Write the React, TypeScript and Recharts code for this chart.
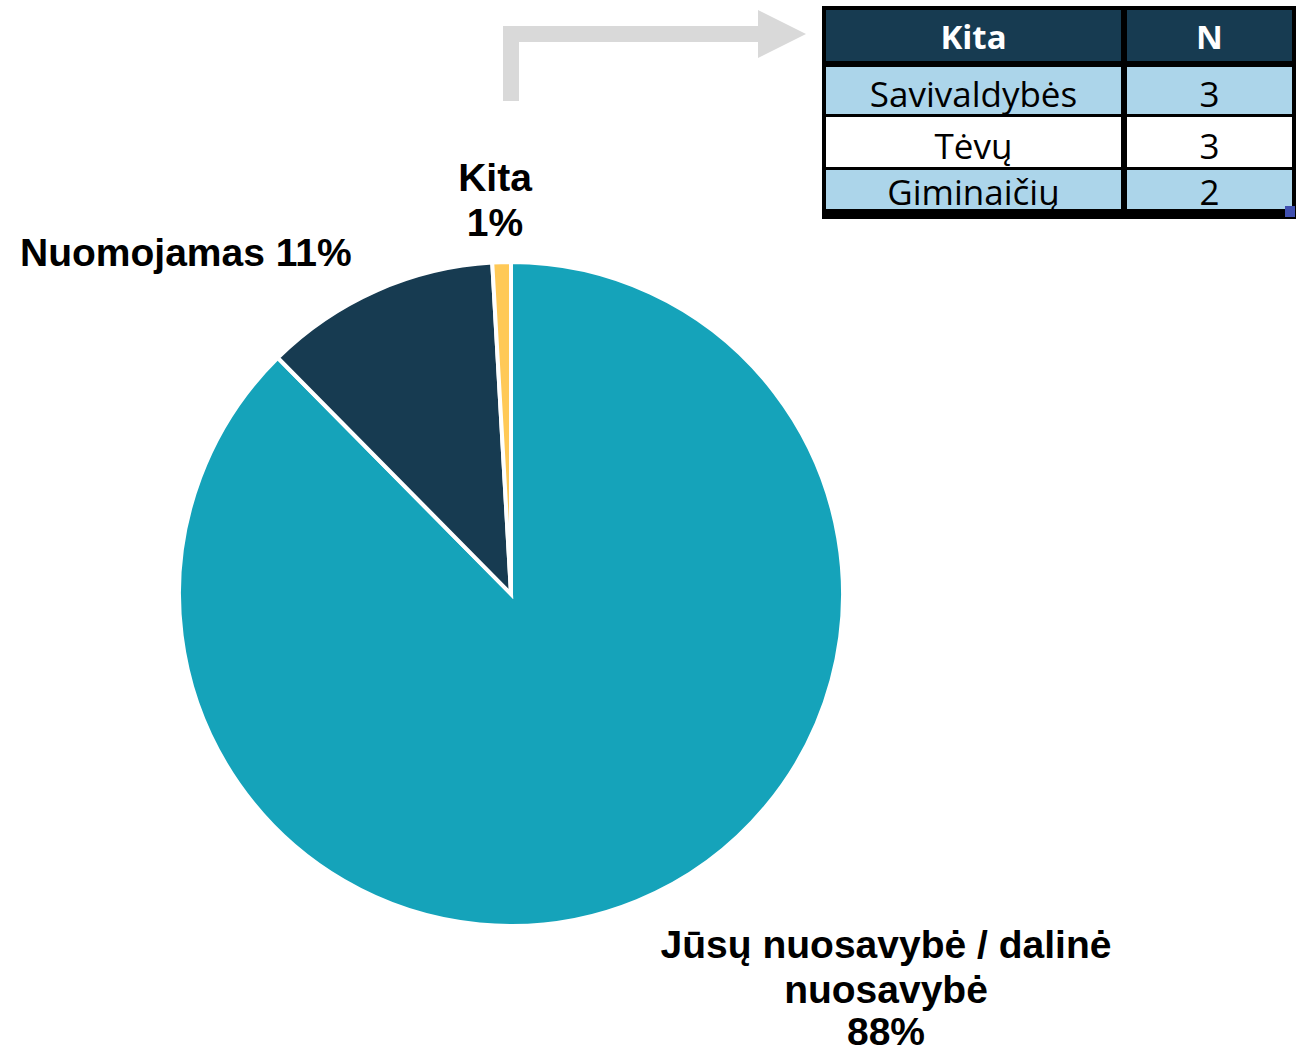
import React from "react";
import { PieChart, Pie, Cell } from "recharts";

// shares (clockwise from 12 o'clock)
const categories = ["Jūsų nuosavybė / dalinė nuosavybė", "Nuomojamas", "Kita"];
const shares = [87.6, 11.5, 0.9];
const shareLabels = ["88%", "11%", "1%"];
const sliceColors = ["#15A3BA", "#173B51", "#FFC957"];

// breakdown of "Kita"
const kitaRows = ["Savivaldybės", "Tėvų", "Giminaičių"];
const kitaCounts = [3, 3, 2];

const data = categories.map((name, i) => ({ name, value: shares[i], pct: shareLabels[i] }));

const labelFont = "'Liberation Sans', Arial, sans-serif";

function SliceLabel(props: any) {
  const { index } = props;
  const common = {
    fontFamily: labelFont,
    fontWeight: 700,
    fontSize: 39,
    fill: "#000",
  };
  if (index === 0) {
    return (
      <text {...common} textAnchor="middle">
        <tspan x={886} y={958}>Jūsų nuosavybė / dalinė</tspan>
        <tspan x={886} y={1003}>nuosavybė</tspan>
        <tspan x={886} y={1045}>{data[0].pct}</tspan>
      </text>
    );
  }
  if (index === 1) {
    return (
      <text {...common} x={20} y={266} textAnchor="start">
        {data[1].name} {data[1].pct}
      </text>
    );
  }
  return (
    <text {...common} textAnchor="middle">
      <tspan x={495} y={191}>{data[2].name}</tspan>
      <tspan x={495} y={236}>{data[2].pct}</tspan>
    </text>
  );
}

function KitaTable() {
  const cell: React.CSSProperties = {
    padding: 0,
    textAlign: "center",
    fontFamily: "'Open Sans', 'Noto Sans', sans-serif",
    fontSize: 35,
    color: "#000",
    lineHeight: 1,
  };
  return (
    <div
      style={{
        position: "absolute",
        left: 822,
        top: 6,
        width: 474,
        height: 213,
        background: "#000",
        boxSizing: "border-box",
      }}
    >
      <table
        style={{
          position: "absolute",
          left: 4,
          top: 4,
          width: 466,
          borderCollapse: "separate",
          borderSpacing: 0,
        }}
      >
        <tbody>
          <tr style={{ height: 51 }}>
            <td style={{ ...cell, width: 295, fontSize: 33, background: "#173B51", color: "#fff", fontWeight: 700, borderRight: "6px solid #000", paddingTop: 2 }}>
              Kita
            </td>
            <td style={{ ...cell, fontSize: 33, background: "#173B51", color: "#fff", fontWeight: 700, paddingTop: 2 }}>N</td>
          </tr>
          {kitaRows.map((r, i) => (
            <tr key={r} style={{ height: i === 2 ? 42 : 53 }}>
              <td
                style={{
                  ...cell,
                  background: i === 1 ? "#fff" : "#ACD5EA",
                  borderTop: i === 0 ? "6px solid #000" : "3px solid #000",
                  borderRight: "6px solid #000",
                  paddingTop: i === 2 ? 4 : 6,
                }}
              >
                {r}
              </td>
              <td
                style={{
                  ...cell,
                  background: i === 1 ? "#fff" : "#ACD5EA",
                  borderTop: i === 0 ? "6px solid #000" : "3px solid #000",
                  paddingTop: i === 2 ? 4 : 6,
                }}
              >
                {kitaCounts[i]}
              </td>
            </tr>
          ))}
        </tbody>
      </table>
      <div style={{ position: "absolute", left: 463, top: 200, width: 10, height: 11, background: "#4050B0" }} />
    </div>
  );
}

export default function App() {
  return (
    <div style={{ position: "absolute", left: 0, top: 0, width: 1312, height: 1049, background: "#fff", overflow: "hidden" }}>
      <svg width={1312} height={1049} style={{ position: "absolute", left: 0, top: 0 }}>
        <path d="M503 101 L503 26 L758 26 L758 10 L806 34 L758 58 L758 42 L519 42 L519 101 Z" fill="#D9D9D9" />
      </svg>
      <div style={{ position: "absolute", left: 0, top: 0 }}>
        <PieChart width={1312} height={1049} margin={{ top: 0, right: 0, bottom: 0, left: 0 }}>
          <Pie
            data={data}
            dataKey="value"
            nameKey="name"
            cx={511}
            cy={594}
            outerRadius={332}
            startAngle={90}
            endAngle={-270}
            stroke="#fff"
            strokeWidth={4}
            label={SliceLabel}
            labelLine={false}
            isAnimationActive={false}
          >
            {data.map((d, i) => (
              <Cell key={d.name} fill={sliceColors[i]} />
            ))}
          </Pie>
        </PieChart>
      </div>
      <KitaTable />
    </div>
  );
}
